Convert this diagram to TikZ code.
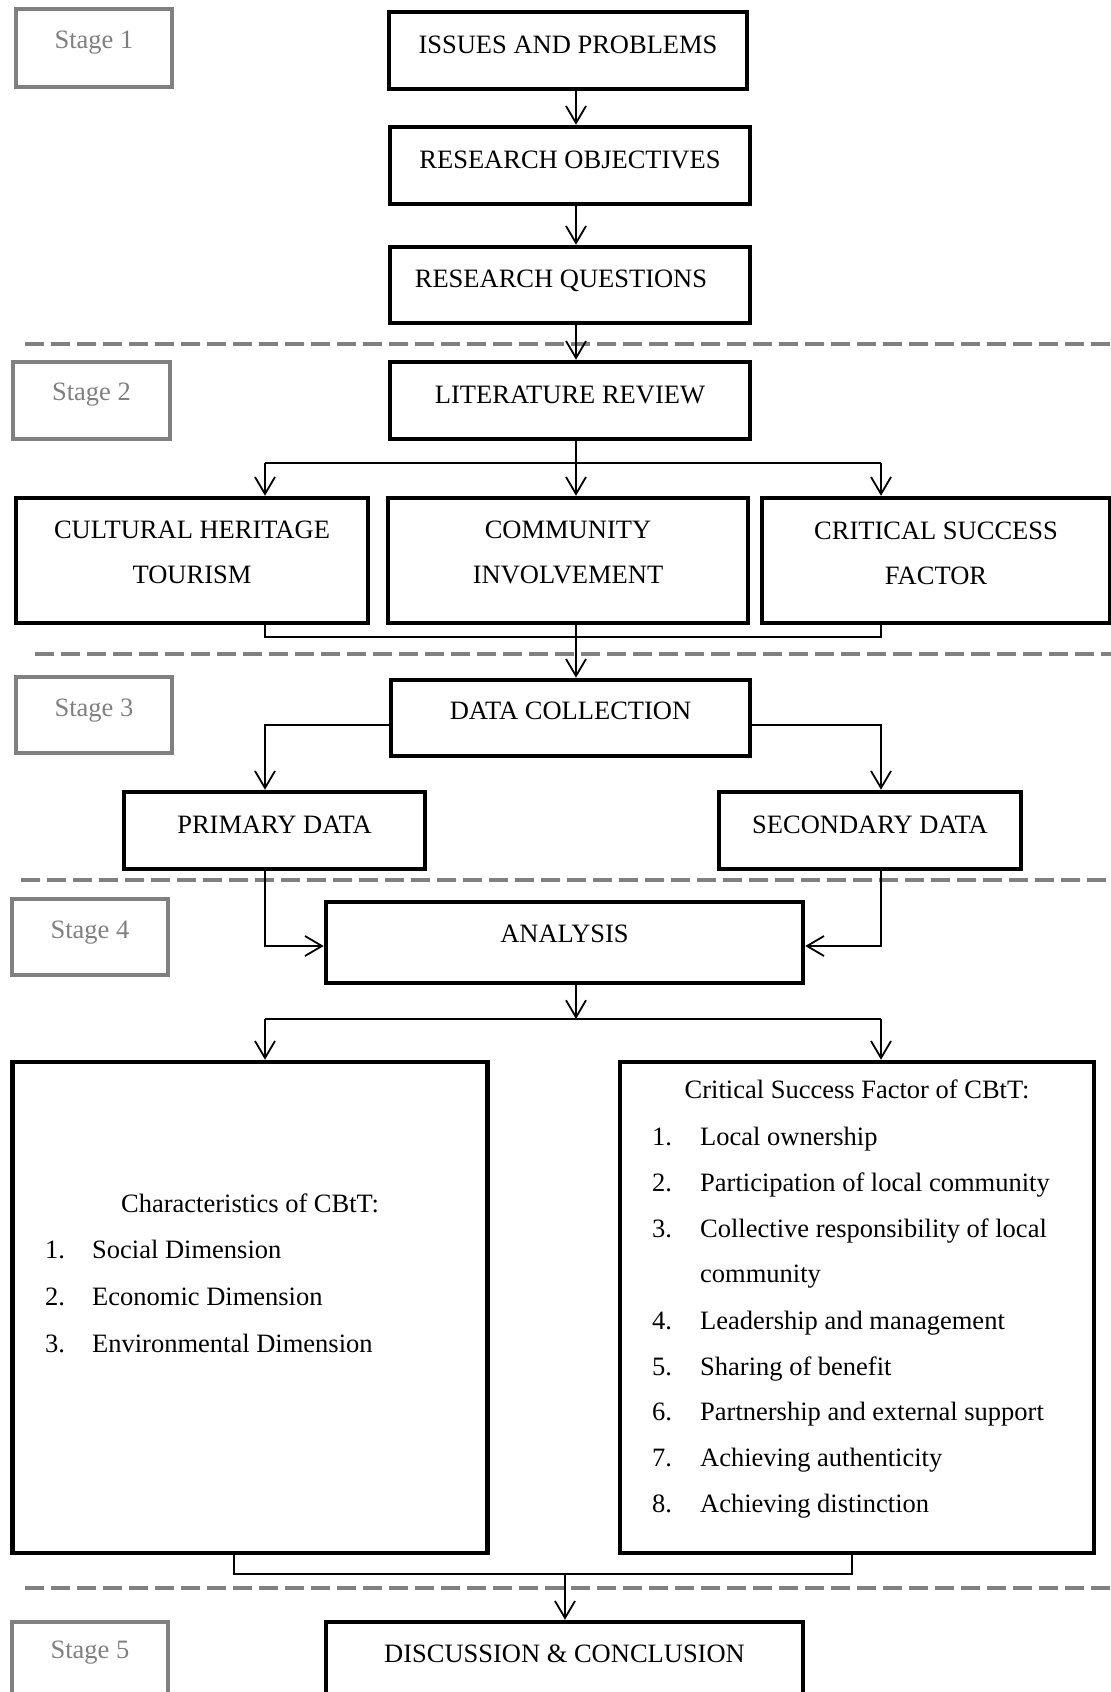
\documentclass[tikz,border=0pt]{standalone}
\usepackage{fontspec}
\setmainfont{Liberation Serif}
\usetikzlibrary{arrows.meta}
\definecolor{stg}{RGB}{128,128,128}
\definecolor{dsh}{RGB}{128,128,128}
\tikzset{
  mainbox/.style={draw=black, line width=4.5pt, inner sep=0pt, rectangle},
  stagebox/.style={draw=stg, line width=4pt, inner sep=0pt, rectangle, minimum width=156pt, minimum height=76pt},
  boxtext/.style={font=\fontsize{26.5}{45}\selectfont, inner sep=0pt, text height=18pt, text depth=0pt},
  twoline/.style={font=\fontsize{26.5}{45}\selectfont, inner sep=0pt, align=center},
  stagetext/.style={boxtext, text=stg},
  listtext/.style={font=\fontsize{26.5}{45}\selectfont, inner sep=0pt, anchor=base west},
  conn/.style={line width=1.8pt},
  arr/.style={conn, -{Straight Barb[length=17pt,width=20pt,line width=1.8pt]}},
  sep/.style={draw=dsh, line width=4.5pt, dash pattern=on 19pt off 7pt},
}
\begin{document}
\begin{tikzpicture}[x=1pt,y=-1pt]
\useasboundingbox (0,0) rectangle (1111,1692);
\clip (0,0) rectangle (1111,1692);
\fill[white] (0,0) rectangle (1111,1692);

% stage separators
\draw[sep] (25,344) -- (1111,344);
\draw[sep] (35,654) -- (1111,654);
\draw[sep] (21,880) -- (1111,880);
\draw[sep] (25,1588) -- (1111,1588);

% stage boxes
\node[stagebox, minimum height=78pt, label={[stagetext, yshift=8.5pt]center:Stage 1}] (s1) at (94,48) {};
\node[stagebox, minimum width=157pt, minimum height=77pt, label={[stagetext, yshift=9.5pt]center:Stage 2}] (s2) at (91.5,400.5) {};
\node[stagebox, label={[stagetext, yshift=8pt]center:Stage 3}] (s3) at (94,715) {};
\node[stagebox, label={[stagetext, yshift=8pt]center:Stage 4}] (s4) at (90,937) {};
\node[stagebox, label={[stagetext, yshift=11pt]center:Stage 5}] (s5) at (90,1660) {};

% main boxes
\node[mainbox, minimum width=358pt, minimum height=77pt, label={[boxtext, yshift=6.5pt]center:ISSUES AND PROBLEMS}] (iss) at (568,50.5) {};
\node[mainbox, minimum width=360pt, minimum height=77pt, label={[boxtext, yshift=6.5pt]center:RESEARCH OBJECTIVES}] (ro) at (570,165.5) {};
\node[mainbox, minimum width=360pt, minimum height=76pt, label={[boxtext, yshift=7pt, xshift=-9pt]center:RESEARCH QUESTIONS}] (rq) at (570,285) {};
\node[mainbox, minimum width=360pt, minimum height=77pt, label={[boxtext, yshift=6.5pt]center:LITERATURE REVIEW}] (lr) at (570,400.5) {};
\node[mainbox, minimum width=352pt, minimum height=125pt, label={[twoline, yshift=8pt]center:{CULTURAL HERITAGE\\TOURISM}}] (cht) at (192,560.5) {};
\node[mainbox, minimum width=360pt, minimum height=125pt, label={[twoline, yshift=8pt]center:{COMMUNITY\\INVOLVEMENT}}] (cin) at (568,560.5) {};
\node[mainbox, minimum width=348pt, minimum height=125pt, label={[twoline, yshift=7pt]center:{CRITICAL SUCCESS\\FACTOR}}] (csf) at (936,560.5) {};
\node[mainbox, minimum width=359pt, minimum height=76pt, label={[boxtext, yshift=7.5pt]center:DATA COLLECTION}] (dc) at (570.5,718) {};
\node[mainbox, minimum width=301pt, minimum height=77pt, label={[boxtext, yshift=6.5pt]center:PRIMARY DATA}] (pd) at (274.5,830.5) {};
\node[mainbox, minimum width=302pt, minimum height=77pt, label={[boxtext, yshift=6.5pt]center:SECONDARY DATA}] (sd) at (870,830.5) {};
\node[mainbox, minimum width=477pt, minimum height=81pt, label={[boxtext, yshift=9.5pt]center:ANALYSIS}] (an) at (564.5,942.5) {};
\node[mainbox, minimum width=475pt, minimum height=491pt] (lb) at (250,1307.5) {};
\node[mainbox, minimum width=474pt, minimum height=491pt] (rb) at (857,1307.5) {};
\node[mainbox, minimum width=477pt, minimum height=81pt, label={[boxtext, yshift=9pt]center:DISCUSSION \& CONCLUSION}] (dis) at (564.5,1662.5) {};

% list texts
\node[listtext, anchor=base] (lh) at (250,1212) {Characteristics of CBtT:};
\node[listtext] (l1) at (45,1258) {\makebox[47pt][l]{1.}Social Dimension};
\node[listtext] (l2) at (45,1305) {\makebox[47pt][l]{2.}Economic Dimension};
\node[listtext] (l3) at (45,1352) {\makebox[47pt][l]{3.}Environmental Dimension};

\node[listtext, anchor=base] (rh) at (857,1098) {Critical Success Factor of CBtT:};
\node[listtext] (r1) at (652,1145) {\makebox[48pt][l]{1.}Local ownership};
\node[listtext] (r2) at (652,1191) {\makebox[48pt][l]{2.}Participation of local community};
\node[listtext] (r3) at (652,1237) {\makebox[48pt][l]{3.}Collective responsibility of local};
\node[listtext] (r3b) at (700,1282) {community};
\node[listtext] (r4) at (652,1329) {\makebox[48pt][l]{4.}Leadership and management};
\node[listtext] (r5) at (652,1375) {\makebox[48pt][l]{5.}Sharing of benefit};
\node[listtext] (r6) at (652,1420) {\makebox[48pt][l]{6.}Partnership and external support};
\node[listtext] (r7) at (652,1466) {\makebox[48pt][l]{7.}Achieving authenticity};
\node[listtext] (r8) at (652,1512) {\makebox[48pt][l]{8.}Achieving distinction};

% helper coordinates
\coordinate (sp) at (576,0);
\coordinate (xl) at (265,0);
\coordinate (xr) at (881,0);
\coordinate (b2) at (576,463);
\coordinate (m2) at (576,637);
\coordinate (b3y) at (0,725);
\coordinate (ay) at (0,946);
\coordinate (b4) at (576,1019);
\coordinate (xl5) at (234,0);
\coordinate (xr5) at (852,0);
\coordinate (m5) at (565,1574);

% connectors
\draw[arr] (iss.south -| sp) -- (ro.north -| sp);
\draw[arr] (ro.south -| sp) -- (rq.north -| sp);
\draw[arr] (rq.south -| sp) -- (lr.north -| sp);
\draw[arr] (lr.south -| sp) -- (cin.north -| sp);
\draw[conn] (b2 -| xl) -- (b2 -| xr);
\draw[arr] (b2 -| xl) -- (cht.north -| xl);
\draw[arr] (b2 -| xr) -- (csf.north -| xr);
\draw[conn] (cht.south -| xl) |- (m2) -| (csf.south -| xr);
\draw[arr] (cin.south -| sp) -- (dc.north -| sp);
\draw[arr] (dc.west |- b3y) -| (pd.north -| xl);
\draw[arr] (dc.east |- b3y) -| (sd.north -| xr);
\draw[arr] (pd.south -| xl) |- (an.west |- ay);
\draw[arr] (sd.south -| xr) |- (an.east |- ay);
\draw[arr] (an.south -| sp) -- (b4);
\draw[conn] (b4 -| xl) -- (b4 -| xr);
\draw[arr] (b4 -| xl) -- (lb.north -| xl);
\draw[arr] (b4 -| xr) -- (rb.north -| xr);
\draw[conn] (lb.south -| xl5) |- (m5) -| (rb.south -| xr5);
\draw[arr] (m5) -- (dis.north -| m5);
\end{tikzpicture}
\end{document}
